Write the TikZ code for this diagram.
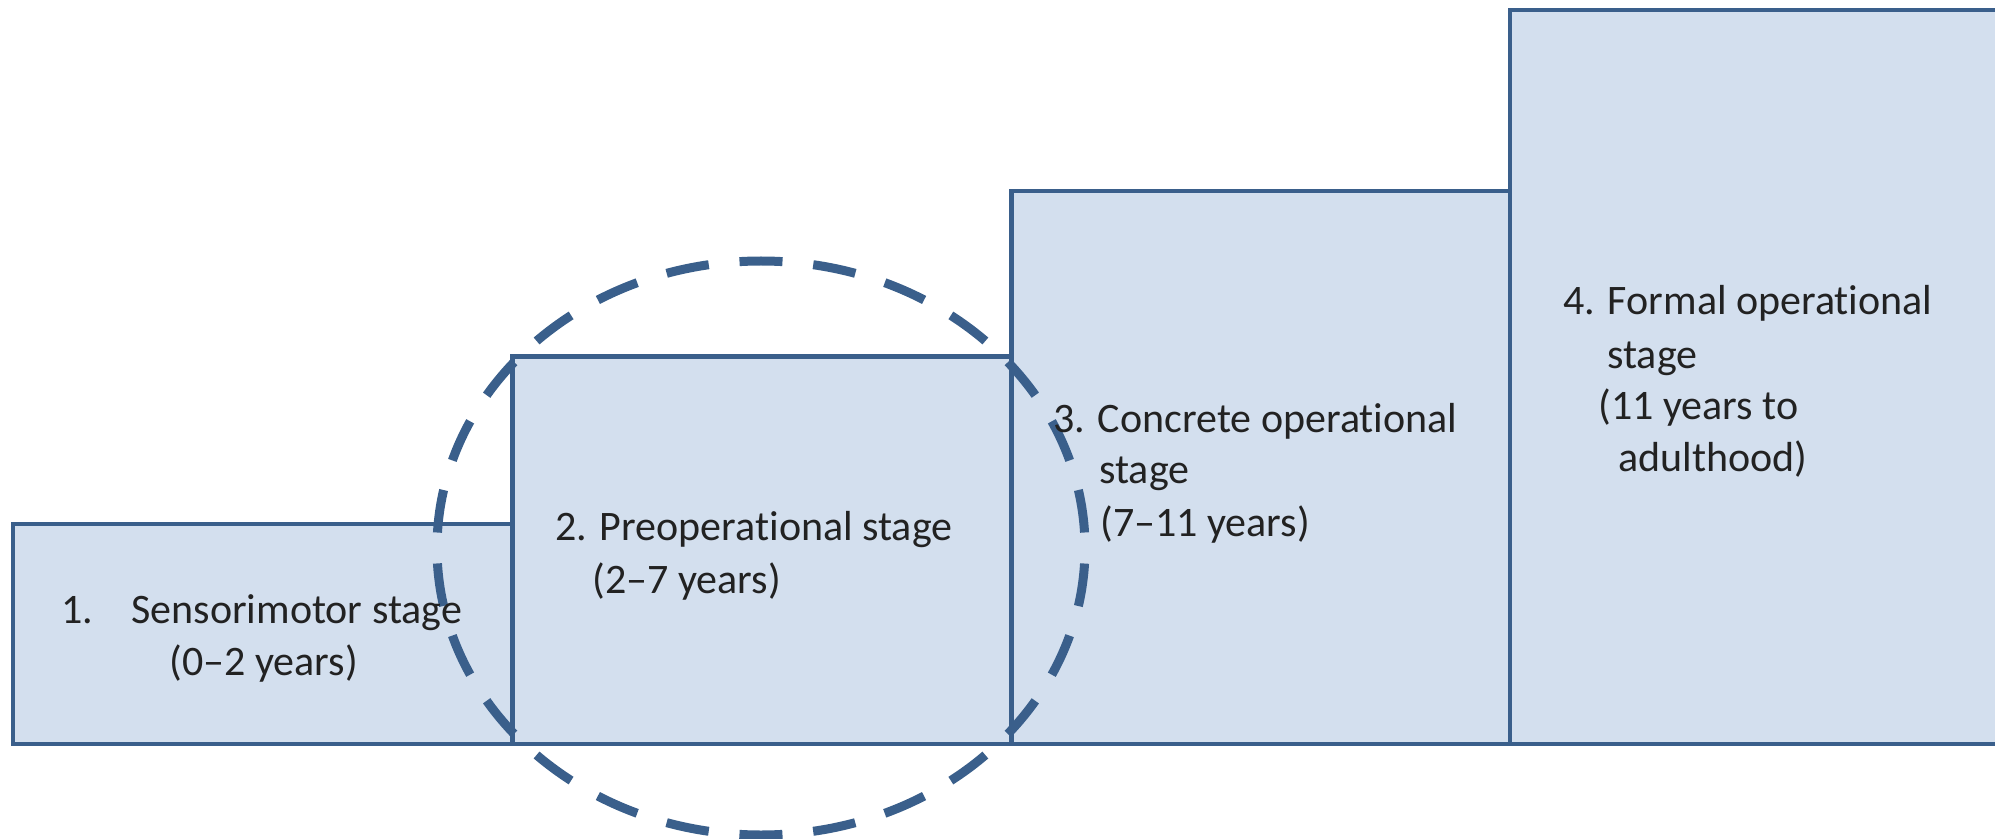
\documentclass[tikz,border=0pt]{standalone}
\usepackage{fontspec}
\setmainfont{Carlito}[Ligatures={NoCommon}]
\definecolor{stageline}{HTML}{3A5F8B}
\definecolor{stagefill}{HTML}{D3DFEE}
\definecolor{stagetext}{HTML}{222222}
\begin{document}
\begin{tikzpicture}[x=0.5pt,y=-0.5pt,
  stagebox/.style={draw=stageline, fill=stagefill, line width=2.2pt, rectangle,
    anchor=south west, minimum width=249.5pt, inner sep=0pt, outer sep=0pt},
  stagelabel/.style={anchor=base west, inner sep=0pt, text=stagetext,
    font=\fontsize{21pt}{25pt}\selectfont},
  focusring/.style={draw=stageline, line width=4.5pt,
    dash pattern=on 21.5pt off 15.45pt, dash phase=29.2pt}]
\useasboundingbox (0,0) rectangle (1995,839);

% the four stages as rising steps
\node[stagebox, minimum height=110pt]    (s1) at (13,744)   {};
\node[stagebox, minimum height=193.75pt] (s2) at (512.5,744) {};
\node[stagebox, minimum height=276.5pt]  (s3) at (1011.5,744) {};
\node[stagebox, minimum height=367pt]    (s4) at (1510,744) {};

% dashed ring around the preoperational stage
\draw[focusring] (761,548) ellipse [x radius=162pt, y radius=143.5pt];

% stage labels
\node[stagelabel] (t1a) at (61,623)  {\makebox[35pt][l]{1.}Sensorimotor stage};
\node[stagelabel] (t1b) at (169,675) {(0--2 years)};

\node[stagelabel] (t2a) at (555,540) {2. Preoperational stage};
\node[stagelabel] (t2b) at (592,593) {(2--7 years)};

\node[stagelabel] (t3a) at (1053,432) {3. Concrete operational};
\node[stagelabel] (t3b) at (1099,483) {stage};
\node[stagelabel] (t3c) at (1100,536) {(7--11 years)};

\node[stagelabel] (t4a) at (1563,315) {4. Formal operational};
\node[stagelabel] (t4b) at (1607,368) {stage};
\node[stagelabel] (t4c) at (1598,419) {(11 years to};
\node[stagelabel] (t4d) at (1618,471) {adulthood)};
\end{tikzpicture}
\end{document}
